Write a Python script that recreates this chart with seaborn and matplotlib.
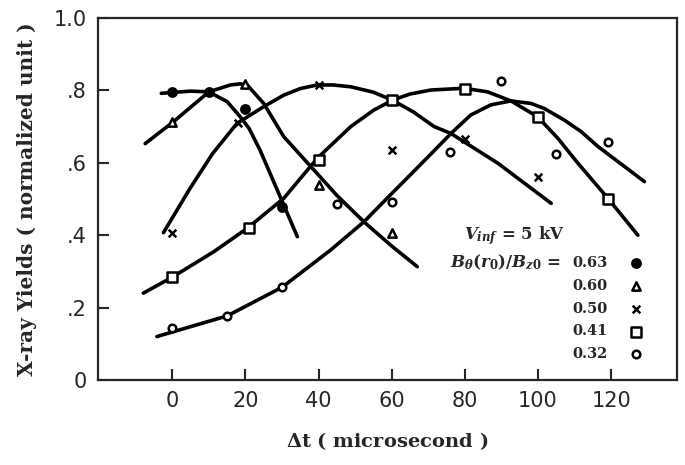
import numpy as np
import pandas as pd
import matplotlib
matplotlib.use("Agg")
import matplotlib.pyplot as plt
import seaborn as sns

# measured points (delta t in microsecond, normalized x-ray yield)
ratio_labels = ["0.63", "0.60", "0.50", "0.41", "0.32"]

pts_063_x = [0, 10, 20, 30]
pts_063_y = [0.795, 0.796, 0.750, 0.478]
pts_060_x = [0, 20, 40, 60]
pts_060_y = [0.713, 0.818, 0.539, 0.405]
pts_050_x = [0, 18, 40, 60, 80, 100]
pts_050_y = [0.406, 0.711, 0.814, 0.634, 0.667, 0.560]
pts_041_x = [0, 21, 40, 60, 80, 100, 119]
pts_041_y = [0.284, 0.420, 0.608, 0.773, 0.804, 0.726, 0.500]
pts_032_x = [0, 15, 30, 45, 60, 76, 90, 105, 119]
pts_032_y = [0.144, 0.177, 0.257, 0.486, 0.492, 0.631, 0.825, 0.625, 0.657]

# hand-drawn fit curves
fit_063_x = [-3, 1, 5, 10, 15, 18.6, 21, 24, 29.3, 34.2]
fit_063_y = [0.792, 0.795, 0.798, 0.796, 0.769, 0.727, 0.695, 0.635, 0.511, 0.396]
fit_060_x = [-7.4, 0.4, 10, 15.9, 18.5, 20.5, 25, 30.5, 38.3, 45, 52.4, 60, 67]
fit_060_y = [0.653, 0.714, 0.796, 0.815, 0.818, 0.815, 0.764, 0.672, 0.585, 0.51, 0.437, 0.37, 0.313]
fit_050_x = [-2.4, 4.9, 11, 17.7, 25, 30.5, 35, 39.6, 44, 48.8, 55, 60.2, 66, 71.6, 76.2, 89, 103.6]
fit_050_y = [0.407, 0.53, 0.625, 0.709, 0.755, 0.787, 0.805, 0.815, 0.815, 0.81, 0.795, 0.773, 0.74, 0.70, 0.681, 0.599, 0.488]
fit_041_x = [-7.9, 0, 11.3, 20.5, 30.5, 39.6, 48.8, 55, 60.2, 65, 70.7, 79.8, 86.2, 92.6, 99.9, 105.4, 110.9, 119.1, 127.3]
fit_041_y = [0.24, 0.284, 0.354, 0.419, 0.502, 0.612, 0.70, 0.745, 0.773, 0.79, 0.801, 0.806, 0.796, 0.771, 0.727, 0.668, 0.599, 0.502, 0.40]
fit_032_x = [-4.2, -0.5, 15, 30, 43.3, 52.4, 60, 70.7, 76.2, 81.6, 87.1, 92.6, 98.1, 101.7, 107.2, 111.8, 116.4, 129.1]
fit_032_y = [0.12, 0.131, 0.177, 0.256, 0.359, 0.437, 0.515, 0.624, 0.681, 0.732, 0.76, 0.771, 0.764, 0.75, 0.718, 0.686, 0.645, 0.548]

x_ticks = [0, 20, 40, 60, 80, 100, 120]
y_ticks = [0, 0.2, 0.4, 0.6, 0.8, 1.0]
y_tick_labels = ["0", ".2", ".4", ".6", ".8", "1.0"]

points = [(pts_063_x, pts_063_y), (pts_060_x, pts_060_y), (pts_050_x, pts_050_y),
          (pts_041_x, pts_041_y), (pts_032_x, pts_032_y)]
fits = [(fit_063_x, fit_063_y), (fit_060_x, fit_060_y), (fit_050_x, fit_050_y),
        (fit_041_x, fit_041_y), (fit_032_x, fit_032_y)]

sns.set_style("ticks")
plt.rcParams["font.family"] = ["DejaVu Sans"]
# bold serif for the math bits in labels
plt.rcParams["mathtext.fontset"] = "custom"
plt.rcParams["mathtext.rm"] = "DejaVu Serif:bold"
plt.rcParams["mathtext.it"] = "DejaVu Serif:italic:bold"
plt.rcParams["mathtext.bf"] = "DejaVu Serif:bold"

fig = plt.figure(figsize=(6.85, 4.65), dpi=100)
ax = fig.add_axes([98 / 685, 85 / 465, 579 / 685, 362 / 465])

# marker styles: (marker, facecolor, size)
styles = [("o", "black", 36), ("^", "white", 36), ("x", "black", 30),
          ("s", "white", 46), ("o", "white", 30)]

for (fx, fy), (px, py), lab, (mk, fc, sz) in zip(fits, points, ratio_labels, styles):
    fit_df = pd.DataFrame({"dt": fx, "yield": fy})
    sns.lineplot(data=fit_df, x="dt", y="yield", color="black", linewidth=2.6,
                 sort=False, ax=ax, legend=False)
    pt_df = pd.DataFrame({"dt": px, "yield": py})
    if mk == "x":
        sns.scatterplot(data=pt_df, x="dt", y="yield", marker=mk, color="black",
                        s=sz, linewidth=1.8, ax=ax, label=lab, zorder=5)
    else:
        sns.scatterplot(data=pt_df, x="dt", y="yield", marker=mk, facecolor=fc,
                        edgecolor="black", s=sz, linewidth=1.8, ax=ax, label=lab, zorder=5)

ax.set_xlim(-20.3, 138)
ax.set_ylim(0, 1.0)
ax.set_xticks(x_ticks)
ax.set_xticklabels([str(v) for v in x_ticks])
ax.set_yticks(y_ticks)
ax.set_yticklabels(y_tick_labels)
ax.tick_params(direction="in", length=8, width=1.5, labelsize=15, pad=8)
for sp in ax.spines.values():
    sp.set_linewidth(1.6)
    sp.set_visible(True)

ax.set_xlabel(r"$\Delta$t ( microsecond )", fontsize=14, fontweight="bold",
              family="DejaVu Serif", labelpad=14)
ax.set_ylabel("X-ray Yields ( normalized unit )", fontsize=14.5, fontweight="bold",
              family="DejaVu Serif", labelpad=12)

leg = ax.legend(loc="upper left", bbox_to_anchor=(0.807, 0.362), frameon=False,
                markerfirst=False, handletextpad=0.9, labelspacing=0.6,
                borderpad=0, prop={"family": "DejaVu Serif", "weight": "bold", "size": 10.5})

ax.text(0.632, 0.40, r"$V_{inf}$ = 5 kV", transform=ax.transAxes, fontsize=12,
        fontweight="bold", family="DejaVu Serif", va="center", ha="left")
ax.text(0.80, 0.326, r"$B_\theta(r_0)/B_{z0}$ =", transform=ax.transAxes, fontsize=12,
        fontweight="bold", family="DejaVu Serif", va="center", ha="right")

fig.savefig("out.png", dpi=100)
